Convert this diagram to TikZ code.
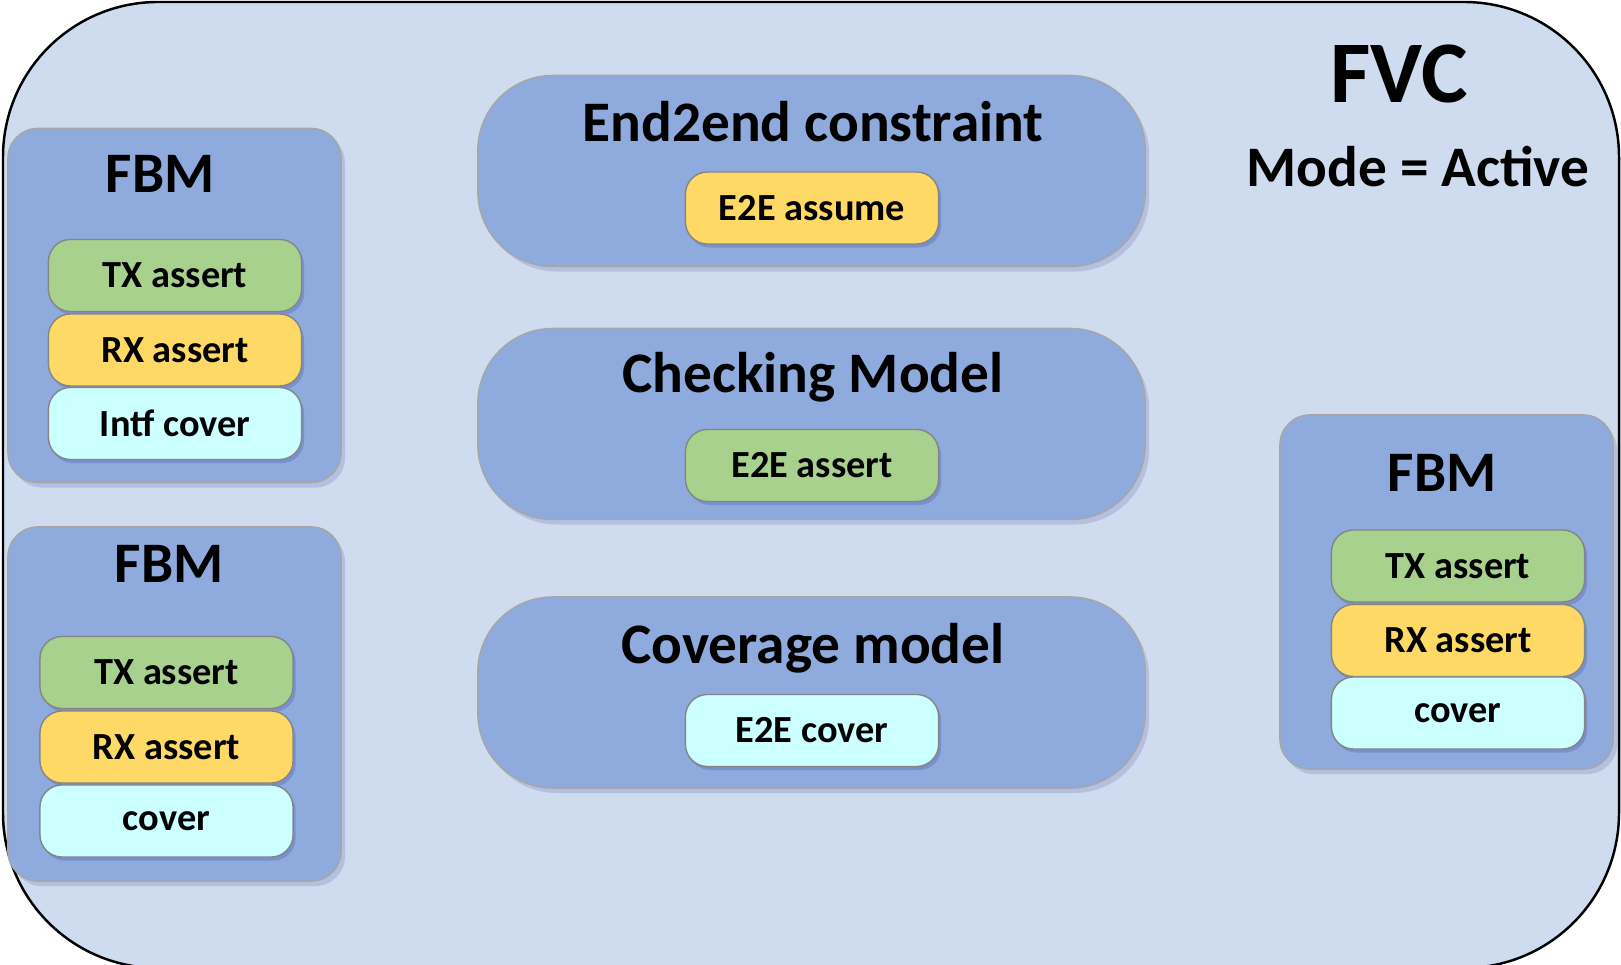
\documentclass[tikz,border=0pt]{standalone}
\usepackage{fontspec}
\setmainfont{Carlito}
\usepackage{xcolor}
\usetikzlibrary{positioning, shadows}

\definecolor{fvcback}{HTML}{CFDBEF}
\definecolor{blockblue}{HTML}{8FAADC}
\definecolor{txgreen}{HTML}{A9D18E}
\definecolor{rxyellow}{HTML}{FFD966}
\definecolor{covercyan}{HTML}{CCFFFF}
\definecolor{edgegray}{HTML}{A6A6A6}

\begin{document}
\begin{tikzpicture}[x=0.01cm, y=-0.01cm,
    fbmbox/.style={draw=edgegray, fill=blockblue, rounded corners=0.3cm,
        minimum width=3.33cm, minimum height=3.54cm,
        drop shadow={shadow xshift=0.04cm, shadow yshift=-0.05cm, opacity=0.12, fill=blue!50!black}},
    modelbox/.style={draw=edgegray, fill=blockblue, rounded corners=0.75cm,
        minimum width=6.67cm, minimum height=1.91cm,
        drop shadow={shadow xshift=0.04cm, shadow yshift=-0.05cm, opacity=0.12, fill=blue!50!black}},
    pill/.style={draw=edgegray!80!black, rounded corners=0.22cm, inner sep=0pt,
        minimum width=2.53cm, minimum height=0.72cm,
        font=\fontsize{10.9}{13}\selectfont\bfseries,
        drop shadow={shadow xshift=0.025cm, shadow yshift=-0.035cm, opacity=0.15, fill=blue!50!black}},
    txpill/.style={pill, fill=txgreen},
    rxpill/.style={pill, fill=rxyellow},
    cvpill/.style={pill, fill=covercyan},
    fbmtitle/.style={font=\fontsize{16.3}{19}\selectfont\bfseries, inner sep=0pt},
    modeltitle/.style={font=\fontsize{16.3}{19}\selectfont\bfseries, inner sep=0pt}]

    \useasboundingbox (0,0) rectangle (1621,965);
    \clip (0,0) rectangle (1621,965);

    % Outer FVC frame
    \draw[fill=fvcback, line width=0.7pt, rounded corners=1.55cm] (3,2) rectangle (1619,968);
    \node[font=\fontsize{25}{30}\selectfont\bfseries, inner sep=0pt] (fvc) at (1399,74) {FVC};
    \node[font=\fontsize{16.3}{20}\selectfont\bfseries, inner sep=0pt] (mode) at (1418,167) {Mode = Active};

    % Left FBM, upper
    \node[fbmbox] (fbmA) at (174.5,305.5) {};
    \node[fbmtitle] (fbmAtitle) at (160,174) {FBM};
    \node[txpill] (fbmAtx) at (175,275.5) {TX assert};
    \node[rxpill] (fbmArx) at (175,350) {RX assert};
    \node[cvpill] (fbmAcv) at (175,423.5) {Intf cover};

    % Left FBM, lower
    \node[fbmbox] (fbmB) at (174.5,704) {};
    \node[fbmtitle] (fbmBtitle) at (169,564) {FBM};
    \node[txpill] (fbmBtx) at (166.5,672.5) {TX assert};
    \node[rxpill] (fbmBrx) at (166.5,747) {RX assert};
    \node[cvpill] (fbmBcv) at (166.5,821) {cover};

    % Right FBM
    \node[fbmbox] (fbmC) at (1446.5,592) {};
    \node[fbmtitle] (fbmCtitle) at (1442,473) {FBM};
    \node[txpill] (fbmCtx) at (1458,566) {TX assert};
    \node[rxpill] (fbmCrx) at (1458,640.5) {RX assert};
    \node[cvpill] (fbmCcv) at (1458,713) {cover};

    % Middle models
    \node[modelbox] (e2e) at (811.5,171) {};
    \node[modeltitle] (e2etitle) at (813,122) {End2end constraint};
    \node[rxpill] (e2eassume) at (812,208) {E2E assume};

    \node[modelbox] (check) at (811.5,424) {};
    \node[modeltitle] (checktitle) at (813,377) {Checking Model};
    \node[txpill] (e2eassert) at (812,465.5) {E2E assert};

    \node[modelbox] (cov) at (811.5,692.5) {};
    \node[modeltitle] (covtitle) at (813,648) {Coverage model};
    \node[cvpill] (e2ecover) at (812,730.5) {E2E cover};

\end{tikzpicture}
\end{document}
